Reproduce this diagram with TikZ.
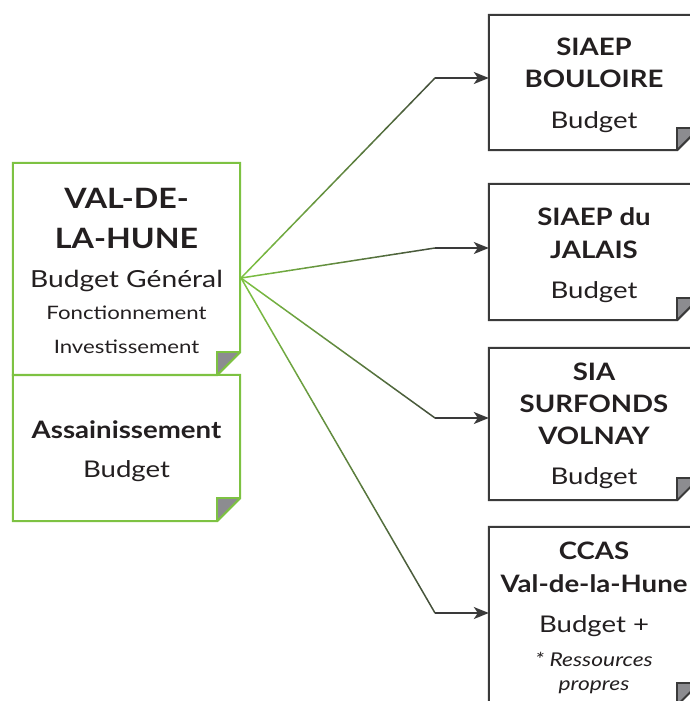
\documentclass[tikz,border=0pt]{standalone}
\usepackage{fontspec}
\setmainfont{Lato}[FakeStretch=1.2, BoldFeatures={FakeStretch=1.15}]
\usetikzlibrary{arrows.meta,calc}
\definecolor{lgreen}{HTML}{7DC242}
\definecolor{dgray}{HTML}{3A3A3A}
\definecolor{foldgray}{HTML}{8C8C90}
\definecolor{txt}{HTML}{231F20}
\newcommand{\foldbox}[3]{%
  \fill[foldgray] ($(#1.south east)+(-#3,0)$) -- ($(#1.south east)+(-#3,-#3)$) -- ($(#1.south east)+(0,-#3)$) -- cycle;
  \draw[#2, line width=2pt, line join=miter] (#1.north west) -- (#1.north east) -- ($(#1.south east)+(0,-#3)$) -- ($(#1.south east)+(-#3,0)$) -- (#1.south west) -- cycle;
  \draw[#2, line width=1.6pt] ($(#1.south east)+(-#3,0)$) -- ++(0,-#3) -- ++(#3,0);
}
\newcommand{\gradlink}[3]{% origin, elbow, target box
  \foreach \i [evaluate=\i as \a using \i/24, evaluate=\i as \b using (\i+1)/24, evaluate=\i as \p using int(100-3.6*\i)] in {0,...,23}
    \draw[lgreen!\p!dgray, line width=1.5pt, line cap=round] ($(#1)!\a!(#2)$) -- ($(#1)!\b!(#2)$);
  \draw[dgray, line width=1.5pt, -{Stealth[length=15pt,width=12pt,inset=4pt]}] (#2) -- (#2 -| #3.west);
}
\tikzset{
  docbox/.style={draw=none, inner sep=0pt},
  lbox/.style={docbox, minimum width=227pt},
  rbox/.style={docbox, minimum width=210pt},
  txtline/.style={anchor=base, inner sep=0pt, text=txt},
  bigb/.style={txtline, font=\bfseries\fontsize{28}{28}\selectfont},
  midb/.style={txtline, font=\bfseries\fontsize{24}{24}\selectfont},
  budg/.style={txtline, font=\fontsize{23}{23}\selectfont},
  small/.style={txtline, font=\fontsize{18.5}{18.5}\selectfont},
  ital/.style={txtline, font=\itshape\fontsize{19}{19}\selectfont},
}
\begin{document}
\begin{tikzpicture}[x=1pt,y=-1pt]
\useasboundingbox (0,0) rectangle (690,701);
% left boxes
\node[lbox, minimum height=212pt] (vdh) at (126.5,269) {};
\node[lbox, minimum height=146pt] (ass) at (126.5,448) {};
\foldbox{vdh}{lgreen}{23}
\foldbox{ass}{lgreen}{23}
% right boxes
\node[rbox, minimum height=135pt] (r1) at (594,82.5) {};
\node[rbox, minimum height=136pt] (r2) at (594,252) {};
\node[rbox, minimum height=152pt] (r3) at (594,424) {};
\node[rbox, minimum height=178pt] (r4) at (594,616) {};
\foreach \n in {r1,r2,r3,r4} {\foldbox{\n}{dgray}{22}}
% texts left
\node[bigb] (t1) at (126.5,208) {VAL-DE-};
\node[bigb] (t2) at (126.5,248) {LA-HUNE};
\node[budg, font=\fontsize{23.5}{23.5}\selectfont] (t3) at (126.5,287) {Budget Général};
\node[small] (t4) at (126.5,319) {Fonctionnement};
\node[small] (t5) at (126.5,353) {Investissement};
\node[midb] (t6) at (126.5,438) {Assainissement};
\node[budg] (t7) at (126.5,477) {Budget};
% texts right
\node[midb] (a1) at (594,55.5) {SIAEP};
\node[midb] (a2) at (594,87) {BOULOIRE};
\node[budg] (a3) at (594,128) {Budget};
\node[midb] (b1) at (594,225) {SIAEP du};
\node[midb] (b2) at (594,258) {JALAIS};
\node[budg] (b3) at (594,298) {Budget};
\node[midb] (c1) at (594,380) {SIA};
\node[midb] (c2) at (594,412) {SURFONDS};
\node[midb] (c3) at (594,444) {VOLNAY};
\node[budg] (c4) at (594,484) {Budget};
\node[midb] (d1) at (594,559) {CCAS};
\node[midb] (d2) at (594,592) {Val-de-la-Hune};
\node[budg] (d3) at (594,632) {Budget +};
\node[ital] (d4) at (594,666) {* Ressources};
\node[ital] (d5) at (594,690) {propres};
% connectors
\coordinate (o) at (241,278);
\coordinate (e1) at (435,78);
\coordinate (e2) at (435,248);
\coordinate (e3) at (435,418);
\coordinate (e4) at (435,613);
\gradlink{o}{e1}{r1}
\gradlink{o}{e2}{r2}
\gradlink{o}{e3}{r3}
\gradlink{o}{e4}{r4}
\end{tikzpicture}
\end{document}
